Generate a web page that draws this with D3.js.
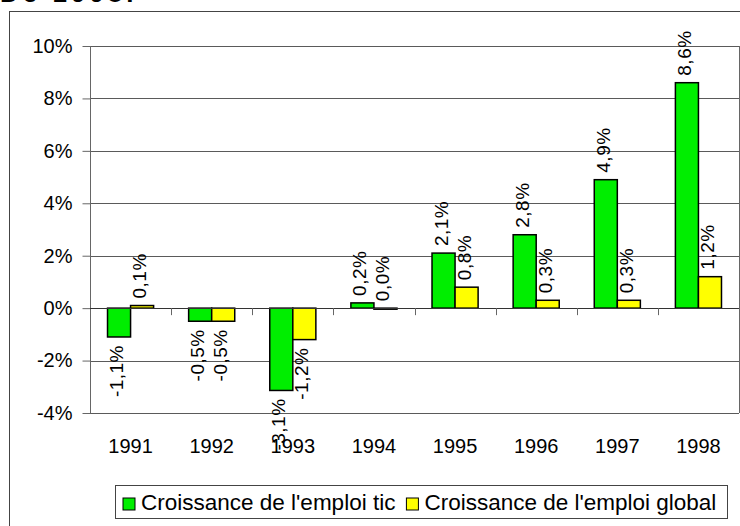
<!DOCTYPE html>
<html>
<head>
<meta charset="utf-8">
<script src="https://cdnjs.cloudflare.com/ajax/libs/d3/7.8.5/d3.min.js"></script>
<style>
  html, body { margin: 0; padding: 0; background: #fff; }
  svg { display: block; font-family: "Liberation Sans", Arial, sans-serif; }
</style>
</head>
<body>
<svg id="chart" width="740" height="526"></svg>
<script>
// ---- data ----
const years = ["1991", "1992", "1993", "1994", "1995", "1996", "1997", "1998"];
const seriesNames = ["Croissance de l'emploi tic", "Croissance de l'emploi global"];
const emploiTic = [-1.1, -0.5, -3.14, 0.2, 2.1, 2.8, 4.9, 8.6];
const emploiGlobal = [0.1, -0.5, -1.2, -0.04, 0.8, 0.3, 0.3, 1.2];
const yTicks = [-4, -2, 0, 2, 4, 6, 8, 10];
const seriesColors = ["#00ee00", "#ffff00"];
const headerText = "De 1998.";

const svg = d3.select("#chart");

// outer chart frame (extends beyond the view on right / bottom)
svg.append("rect")
  .attr("x", 9.5).attr("y", 11.5).attr("width", 900).attr("height", 700)
  .attr("fill", "none").attr("stroke", "#444").attr("stroke-width", 1);

// cut-off heading at very top (only its lower edge is visible, as in the source)
svg.append("text")
  .attr("x", 0).attr("y", 2)
  .attr("font-size", 26).attr("font-weight", "bold")
  .attr("letter-spacing", 4)
  .attr("fill", "#000")
  .text(headerText);

const plot = { left: 90, right: 739, top: 46, bottom: 413 };

const y = d3.scaleLinear().domain([-4, 10]).range([plot.bottom, plot.top]);
const x0 = d3.scaleBand().domain(years).range([plot.left, plot.right]).padding(0);
const x1 = d3.scaleBand().domain([0, 1]).range([0, x0.bandwidth()])
  .paddingInner(0).paddingOuter(0.76);

// gridlines
svg.append("g").selectAll("line").data(yTicks.filter(d => d !== 0)).join("line")
  .attr("x1", plot.left).attr("x2", plot.right)
  .attr("y1", d => Math.round(y(d)) + 0.5).attr("y2", d => Math.round(y(d)) + 0.5)
  .attr("stroke", "#5a5a5a").attr("stroke-width", 1);

// right plot border
svg.append("line")
  .attr("x1", plot.right + 0.5).attr("x2", plot.right + 0.5)
  .attr("y1", plot.top).attr("y2", plot.bottom)
  .attr("stroke", "#666");

// y axis
const yAxis = d3.axisLeft(y).tickValues(yTicks).tickFormat(d => d + "%")
  .tickSize(8).tickPadding(10);
const gy = svg.append("g")
  .attr("transform", `translate(${plot.left + 0.5},0)`)
  .call(yAxis);
gy.select(".domain").attr("stroke", "#666").attr("d", `M0,${y(10)}V${y(-4)}`);
gy.selectAll(".tick line").attr("stroke", "#666");
gy.selectAll(".tick text").attr("font-size", 20).attr("fill", "#000")
  .attr("font-family", "Liberation Sans, Arial, sans-serif");

// bars
const data = years.map((yr, i) => ({ year: yr, values: [emploiTic[i], emploiGlobal[i]] }));
const fmt = v => v.toFixed(1).replace("-0.0", "0.0").replace(".", ",") + "%";
const above = v => Math.round(v * 10) >= 0;

const groups = svg.append("g").selectAll("g").data(data).join("g")
  .attr("transform", d => `translate(${x0(d.year)},0)`);

groups.selectAll("rect").data(d => d.values.map((v, k) => ({ v, k }))).join("rect")
  .attr("x", d => x1(d.k))
  .attr("y", d => y(Math.max(0, d.v)))
  .attr("width", x1.bandwidth())
  .attr("height", d => Math.abs(y(d.v) - y(0)))
  .attr("fill", d => seriesColors[d.k])
  .attr("stroke", "#000").attr("stroke-width", 1.5);

// zero axis line + category ticks
svg.append("line")
  .attr("x1", plot.left).attr("x2", plot.right)
  .attr("y1", Math.round(y(0)) + 0.5).attr("y2", Math.round(y(0)) + 0.5)
  .attr("stroke", "#333");
svg.append("g").selectAll("line").data(years.slice(1)).join("line")
  .attr("x1", d => Math.round(x0(d)) + 0.5).attr("x2", d => Math.round(x0(d)) + 0.5)
  .attr("y1", y(0)).attr("y2", y(0) + 7)
  .attr("stroke", "#666");

// year labels
svg.append("g").selectAll("text").data(years).join("text")
  .attr("x", d => x0(d) + x0.bandwidth() / 2)
  .attr("y", 453)
  .attr("text-anchor", "middle")
  .attr("font-size", 20)
  .attr("fill", "#000")
  .text(d => d);

// value labels (rotated)
groups.selectAll("text").data(d => d.values.map((v, k) => ({ v, k }))).join("text")
  .attr("transform", d => `translate(${x1(d.k) + x1.bandwidth() / 2 + 4},${above(d.v) ? y(Math.max(0, d.v)) : y(d.v)}) rotate(-90)`)
  .attr("x", d => above(d.v) ? 7 : -8)
  .attr("text-anchor", d => above(d.v) ? "start" : "end")
  .attr("font-size", 19)
  .attr("letter-spacing", 0.5)
  .attr("fill", "#000")
  .text(d => fmt(d.v));

// legend
const leg = svg.append("g");
leg.append("rect")
  .attr("x", 115.5).attr("y", 485.5).attr("width", 612).attr("height", 33)
  .attr("fill", "#fff").attr("stroke", "#444");
leg.append("rect").attr("x", 123).attr("y", 498).attr("width", 12).attr("height", 12)
  .attr("fill", seriesColors[0]).attr("stroke", "#000");
const t0 = leg.append("text").attr("x", 141).attr("y", 510).attr("font-size", 22.5)
  .attr("fill", "#000").text(seriesNames[0]);
const w0 = t0.node().getComputedTextLength();
const x2 = 141 + w0 + 11;
leg.append("rect").attr("x", x2).attr("y", 498).attr("width", 12).attr("height", 12)
  .attr("fill", seriesColors[1]).attr("stroke", "#000");
leg.append("text").attr("x", x2 + 18).attr("y", 510).attr("font-size", 22.5)
  .attr("fill", "#000").text(seriesNames[1]);
</script>
</body>
</html>
